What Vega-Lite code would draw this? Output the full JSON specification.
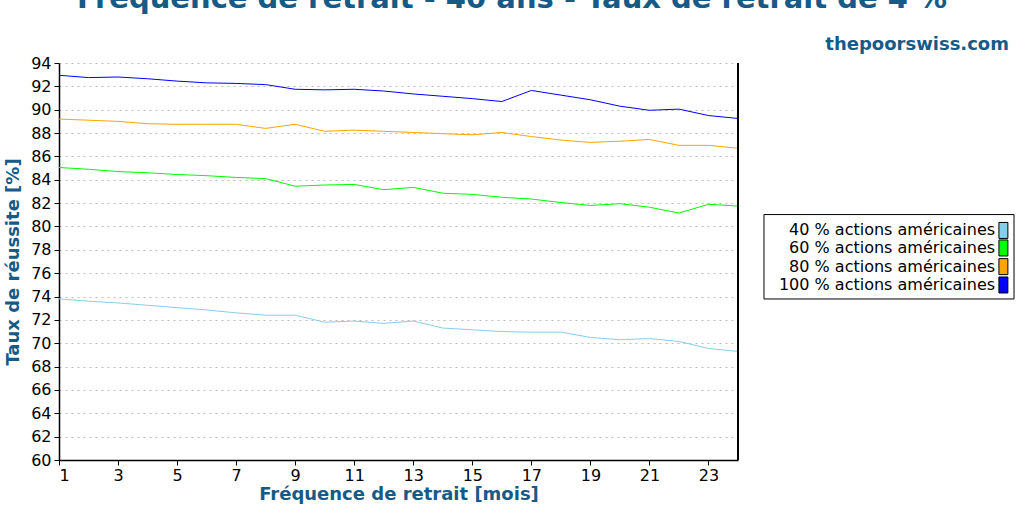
{
  "$schema": "https://vega.github.io/schema/vega-lite/v6.json",
  "width": 679,
  "height": 397,
  "autosize": {"type": "none"},
  "padding": {"left": 59, "top": 63, "right": 286, "bottom": 52},
  "background": "white",
  "config": {
    "font": "DejaVu Sans",
    "view": {"stroke": null}
  },
  "title": {
    "text": "Fréquence de retrait - 40 ans - Taux de retrait de 4 %",
    "anchor": "start",
    "frame": "group",
    "dx": 18,
    "offset": 22,
    "fontSize": 29,
    "fontWeight": "bold",
    "color": "#165a87"
  },
  "data": {
    "values": [
      {"m": 1, "s": "40 % actions américaines", "v": 73.8},
      {"m": 2, "s": "40 % actions américaines", "v": 73.6},
      {"m": 3, "s": "40 % actions américaines", "v": 73.45},
      {"m": 4, "s": "40 % actions américaines", "v": 73.25},
      {"m": 5, "s": "40 % actions américaines", "v": 73.05},
      {"m": 6, "s": "40 % actions américaines", "v": 72.85},
      {"m": 7, "s": "40 % actions américaines", "v": 72.6},
      {"m": 8, "s": "40 % actions américaines", "v": 72.4},
      {"m": 9, "s": "40 % actions américaines", "v": 72.4},
      {"m": 10, "s": "40 % actions américaines", "v": 71.8},
      {"m": 11, "s": "40 % actions américaines", "v": 71.9},
      {"m": 12, "s": "40 % actions américaines", "v": 71.7},
      {"m": 13, "s": "40 % actions américaines", "v": 71.9},
      {"m": 14, "s": "40 % actions américaines", "v": 71.3},
      {"m": 15, "s": "40 % actions américaines", "v": 71.15},
      {"m": 16, "s": "40 % actions américaines", "v": 71.0},
      {"m": 17, "s": "40 % actions américaines", "v": 70.95},
      {"m": 18, "s": "40 % actions américaines", "v": 70.95},
      {"m": 19, "s": "40 % actions américaines", "v": 70.5},
      {"m": 20, "s": "40 % actions américaines", "v": 70.3},
      {"m": 21, "s": "40 % actions américaines", "v": 70.4},
      {"m": 22, "s": "40 % actions américaines", "v": 70.15},
      {"m": 23, "s": "40 % actions américaines", "v": 69.55},
      {"m": 24, "s": "40 % actions américaines", "v": 69.3},
      {"m": 1, "s": "60 % actions américaines", "v": 85.05},
      {"m": 2, "s": "60 % actions américaines", "v": 84.9},
      {"m": 3, "s": "60 % actions américaines", "v": 84.7},
      {"m": 4, "s": "60 % actions américaines", "v": 84.6},
      {"m": 5, "s": "60 % actions américaines", "v": 84.45},
      {"m": 6, "s": "60 % actions américaines", "v": 84.35},
      {"m": 7, "s": "60 % actions américaines", "v": 84.2},
      {"m": 8, "s": "60 % actions américaines", "v": 84.1},
      {"m": 9, "s": "60 % actions américaines", "v": 83.45},
      {"m": 10, "s": "60 % actions américaines", "v": 83.55},
      {"m": 11, "s": "60 % actions américaines", "v": 83.6},
      {"m": 12, "s": "60 % actions américaines", "v": 83.15},
      {"m": 13, "s": "60 % actions américaines", "v": 83.35},
      {"m": 14, "s": "60 % actions américaines", "v": 82.85},
      {"m": 15, "s": "60 % actions américaines", "v": 82.75},
      {"m": 16, "s": "60 % actions américaines", "v": 82.5},
      {"m": 17, "s": "60 % actions américaines", "v": 82.35},
      {"m": 18, "s": "60 % actions américaines", "v": 82.05},
      {"m": 19, "s": "60 % actions américaines", "v": 81.8},
      {"m": 20, "s": "60 % actions américaines", "v": 81.95},
      {"m": 21, "s": "60 % actions américaines", "v": 81.65},
      {"m": 22, "s": "60 % actions américaines", "v": 81.15},
      {"m": 23, "s": "60 % actions américaines", "v": 81.9},
      {"m": 24, "s": "60 % actions américaines", "v": 81.75},
      {"m": 1, "s": "80 % actions américaines", "v": 89.2},
      {"m": 2, "s": "80 % actions américaines", "v": 89.1},
      {"m": 3, "s": "80 % actions américaines", "v": 89.0},
      {"m": 4, "s": "80 % actions américaines", "v": 88.8},
      {"m": 5, "s": "80 % actions américaines", "v": 88.75},
      {"m": 6, "s": "80 % actions américaines", "v": 88.75},
      {"m": 7, "s": "80 % actions américaines", "v": 88.75},
      {"m": 8, "s": "80 % actions américaines", "v": 88.4},
      {"m": 9, "s": "80 % actions américaines", "v": 88.75},
      {"m": 10, "s": "80 % actions américaines", "v": 88.15},
      {"m": 11, "s": "80 % actions américaines", "v": 88.25},
      {"m": 12, "s": "80 % actions américaines", "v": 88.15},
      {"m": 13, "s": "80 % actions américaines", "v": 88.05},
      {"m": 14, "s": "80 % actions américaines", "v": 87.95},
      {"m": 15, "s": "80 % actions américaines", "v": 87.85},
      {"m": 16, "s": "80 % actions américaines", "v": 88.05},
      {"m": 17, "s": "80 % actions américaines", "v": 87.7},
      {"m": 18, "s": "80 % actions américaines", "v": 87.4},
      {"m": 19, "s": "80 % actions américaines", "v": 87.2},
      {"m": 20, "s": "80 % actions américaines", "v": 87.3},
      {"m": 21, "s": "80 % actions américaines", "v": 87.45},
      {"m": 22, "s": "80 % actions américaines", "v": 86.95},
      {"m": 23, "s": "80 % actions américaines", "v": 86.95},
      {"m": 24, "s": "80 % actions américaines", "v": 86.7},
      {"m": 1, "s": "100 % actions américaines", "v": 92.95},
      {"m": 2, "s": "100 % actions américaines", "v": 92.75},
      {"m": 3, "s": "100 % actions américaines", "v": 92.8},
      {"m": 4, "s": "100 % actions américaines", "v": 92.65},
      {"m": 5, "s": "100 % actions américaines", "v": 92.45},
      {"m": 6, "s": "100 % actions américaines", "v": 92.3},
      {"m": 7, "s": "100 % actions américaines", "v": 92.25},
      {"m": 8, "s": "100 % actions américaines", "v": 92.15},
      {"m": 9, "s": "100 % actions américaines", "v": 91.75},
      {"m": 10, "s": "100 % actions américaines", "v": 91.7},
      {"m": 11, "s": "100 % actions américaines", "v": 91.75},
      {"m": 12, "s": "100 % actions américaines", "v": 91.6},
      {"m": 13, "s": "100 % actions américaines", "v": 91.35},
      {"m": 14, "s": "100 % actions américaines", "v": 91.15},
      {"m": 15, "s": "100 % actions américaines", "v": 90.95},
      {"m": 16, "s": "100 % actions américaines", "v": 90.7},
      {"m": 17, "s": "100 % actions américaines", "v": 91.65},
      {"m": 18, "s": "100 % actions américaines", "v": 91.25},
      {"m": 19, "s": "100 % actions américaines", "v": 90.85},
      {"m": 20, "s": "100 % actions américaines", "v": 90.3},
      {"m": 21, "s": "100 % actions américaines", "v": 89.95},
      {"m": 22, "s": "100 % actions américaines", "v": 90.05},
      {"m": 23, "s": "100 % actions américaines", "v": 89.5},
      {"m": 24, "s": "100 % actions américaines", "v": 89.25}
    ]
  },
  "encoding": {
    "x": {
      "field": "m",
      "type": "quantitative",
      "scale": {"domain": [1, 24], "nice": false, "zero": false},
      "axis": {
        "values": [1, 3, 5, 7, 9, 11, 13, 15, 17, 19, 21, 23],
        "title": "Fréquence de retrait [mois]",
        "titleFontSize": 18,
        "titleFontWeight": "bold",
        "titleColor": "#165a87",
        "titlePadding": 2,
        "labelFontSize": 16,
        "labelColor": "black",
        "labelPadding": 2,
        "domainColor": "black",
        "domainWidth": 1.5,
        "tickColor": "black",
        "tickSize": 5,
        "grid": false
      }
    },
    "y": {
      "field": "v",
      "type": "quantitative",
      "scale": {"domain": [60, 94], "nice": false, "zero": false},
      "axis": {
        "values": [60, 62, 64, 66, 68, 70, 72, 74, 76, 78, 80, 82, 84, 86, 88, 90, 92, 94],
        "title": "Taux de réussite [%]",
        "titleFontSize": 18,
        "titleFontWeight": "bold",
        "titleColor": "#165a87",
        "titlePadding": 8,
        "labelFontSize": 16,
        "labelColor": "black",
        "labelPadding": 3,
        "domainColor": "black",
        "domainWidth": 1.5,
        "tickColor": "black",
        "tickSize": 5,
        "grid": true,
        "gridColor": "#bbbbbb",
        "gridDash": [2, 4]
      }
    }
  },
  "layer": [
    {
      "mark": {"type": "line", "strokeWidth": 1},
      "encoding": {
        "color": {
          "field": "s",
          "type": "nominal",
          "scale": {
            "domain": ["40 % actions américaines", "60 % actions américaines", "80 % actions américaines", "100 % actions américaines"],
            "range": ["#87ceeb", "#00ff00", "#ffa500", "#0000ff"]
          },
          "legend": null
        }
      }
    },
    {
      "mark": {"type": "rule", "color": "black", "strokeWidth": 1.5},
      "encoding": {"x": {"datum": 24}, "y": null}
    },
    {
      "transform": [{"filter": "datum.m == 1 && datum.v < 74"}],
      "layer": [
        {
          "mark": {
            "type": "text",
            "align": "right",
            "dx": 271,
            "dy": -18,
            "fontSize": 18,
            "fontWeight": "bold",
            "color": "#165a87"
          },
          "encoding": {
            "x": {"datum": 24},
            "y": {"datum": 94},
            "text": {"value": "thepoorswiss.com"}
          }
        },
        {
          "mark": {"type": "rect", "fillOpacity": 0, "stroke": "black", "strokeWidth": 1},
          "encoding": {
            "x": {"datum": 24.88},
            "x2": {"datum": 33.35},
            "y": {"datum": 81.02},
            "y2": {"datum": 73.79}
          }
        },
        {
          "mark": {"type": "text", "align": "right", "baseline": "middle", "fontSize": 16, "color": "black"},
          "encoding": {"x": {"datum": 32.71}, "y": {"datum": 79.66}, "text": {"value": "40 % actions américaines"}}
        },
        {
          "mark": {"type": "text", "align": "right", "baseline": "middle", "fontSize": 16, "color": "black"},
          "encoding": {"x": {"datum": 32.71}, "y": {"datum": 78.16}, "text": {"value": "60 % actions américaines"}}
        },
        {
          "mark": {"type": "text", "align": "right", "baseline": "middle", "fontSize": 16, "color": "black"},
          "encoding": {"x": {"datum": 32.71}, "y": {"datum": 76.56}, "text": {"value": "80 % actions américaines"}}
        },
        {
          "mark": {"type": "text", "align": "right", "baseline": "middle", "fontSize": 16, "color": "black"},
          "encoding": {"x": {"datum": 32.71}, "y": {"datum": 74.99}, "text": {"value": "100 % actions américaines"}}
        },
        {
          "mark": {"type": "point", "shape": "M-0.56,-1L0.56,-1L0.56,1L-0.56,1Z", "size": 256, "filled": true, "fill": "#87ceeb", "stroke": "black", "strokeWidth": 1, "opacity": 1},
          "encoding": {"x": {"datum": 32.99}, "y": {"datum": 79.66}}
        },
        {
          "mark": {"type": "point", "shape": "M-0.56,-1L0.56,-1L0.56,1L-0.56,1Z", "size": 256, "filled": true, "fill": "#00ff00", "stroke": "black", "strokeWidth": 1, "opacity": 1},
          "encoding": {"x": {"datum": 32.99}, "y": {"datum": 78.16}}
        },
        {
          "mark": {"type": "point", "shape": "M-0.56,-1L0.56,-1L0.56,1L-0.56,1Z", "size": 256, "filled": true, "fill": "#ffa500", "stroke": "black", "strokeWidth": 1, "opacity": 1},
          "encoding": {"x": {"datum": 32.99}, "y": {"datum": 76.56}}
        },
        {
          "mark": {"type": "point", "shape": "M-0.56,-1L0.56,-1L0.56,1L-0.56,1Z", "size": 256, "filled": true, "fill": "#0000ff", "stroke": "black", "strokeWidth": 1, "opacity": 1},
          "encoding": {"x": {"datum": 32.99}, "y": {"datum": 74.99}}
        }
      ]
    }
  ]
}
